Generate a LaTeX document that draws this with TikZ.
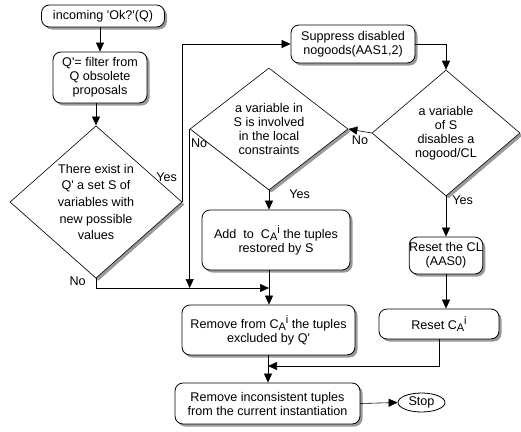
\documentclass[tikz,border=0pt]{standalone}
\usepackage{fontspec}
\setmainfont{Liberation Sans}
\usetikzlibrary{shapes.geometric}
\usetikzlibrary{shadows}
\usetikzlibrary{arrows.meta}
\usetikzlibrary{positioning}
\newcommand{\CAi}{C\raisebox{-0.35ex}{\fontsize{11}{12}\selectfont A}\raisebox{0.8ex}{\fontsize{11}{12}\selectfont i}}
\newcommand{\q}{\textquotesingle}

\begin{document}
\begin{tikzpicture}[x=1pt, y=-1pt,
		every node/.style={font=\fontsize{12.6}{14}\selectfont, align=center, inner sep=0pt},
		shade box/.style={drop shadow={shadow xshift=2.5pt, shadow yshift=-2.5pt, fill=black!40, opacity=1}},
		box/.style={draw, line width=0.8pt, rounded corners=8pt, fill=white, shade box},
		test/.style={draw, diamond, line width=0.6pt, fill=white, shade box},
		arr/.style={line width=0.6pt, -{Triangle[length=9pt, width=8pt]}}
	]
			\useasboundingbox (0,0) rectangle (521,431);
			% left column
			\node[box, minimum width=123pt, minimum height=22pt] (incoming) at (103,16) {incoming \q Ok?\q(Q)};
			\node[box, minimum width=94pt, minimum height=51pt] (filter) at (100,77.5) {Q\q= filter from\\Q obsolete\\proposals};
			\node[test, minimum width=172pt, minimum height=148pt, font=\fontsize{12.6}{16.7}\selectfont] (exist) at (96,202)
				{There exist in\\Q\q\ a set S of\\variables with\\new possible\\values};
			% middle column
			\node[box, minimum width=124pt, minimum height=38pt] (suppress) at (353,44) {Suppress disabled\\nogoods(AAS1,2)};
			\node[test, minimum width=158pt, minimum height=116pt] (involved) at (269,129)
				{a variable in\\S is involved\\in the local\\constraints};
			\node[box, minimum width=148pt, minimum height=60pt] (add) at (276,240) {Add\ \ to\ \ \CAi\ the tuples\\restored by S};
			\node[box, minimum width=173pt, minimum height=50pt] (excluded) at (268.5,330) {Remove from \CAi\ the tuples\\excluded by Q\q};
			\node[box, minimum width=185pt, minimum height=41pt] (inconsistent) at (267.5,403.5) {Remove inconsistent tuples\\from the current instantiation};
			\node[draw, ellipse, line width=0.8pt, fill=white, minimum width=47pt, minimum height=19pt] (stop) at (421.5,402.5) {Stop};
			% right column
			\node[test, minimum width=148pt, minimum height=126pt] (disables) at (446,133)
				{a variable\\of S\\disables a\\nogood/CL};
			\node[box, minimum width=73pt, minimum height=37pt] (resetcl) at (446,255.5) {Reset the CL\\(AAS0)};
			\node[box, minimum width=120pt, minimum height=30pt] (resetca) at (439,324) {Reset \CAi};
			\coordinate (merge) at (269,288);
			\coordinate (join) at (268,366);
			% connectors
			\draw[arr] (incoming.south -| filter.north) -- (filter.north);
			\draw[arr] (exist.north |- filter.south) -- (exist.north);
			\draw[arr] (exist.east) -- (exist.east |- suppress.west)
				node[pos=0, above left=20pt and 5pt] {Yes} -- (suppress.west);
			\draw[arr] (exist.south) |- (merge) node[pos=0.15, left=10pt] {No};
			\draw[arr] (suppress.east) -| (disables.north);
			\draw[arr] (disables.west) -- (involved.east) node[midway, below=5pt] {No};
			\draw[arr] (disables.south) -- (disables.south |- resetcl.north) node[pos=0.1, right=6pt] {Yes};
			\draw[arr] (involved.west) -- (involved.west |- merge) node[pos=0.09, right=1pt] {No};
			\draw[arr] (involved.south) -- (involved.south |- add.north) node[pos=0.2, right=20pt] {Yes};
			\draw[arr] (involved.south |- add.south) -- (involved.south |- excluded.north);
			\draw[arr] (resetcl.south) -- (resetcl.south |- resetca.north);
			\draw[arr] (resetca.south) |- (join);
			\draw[arr] (excluded.south -| join) -- (inconsistent.north -| join);
			\draw[arr] (inconsistent.east) -- (stop.west);
		\end{tikzpicture}
\end{document}
